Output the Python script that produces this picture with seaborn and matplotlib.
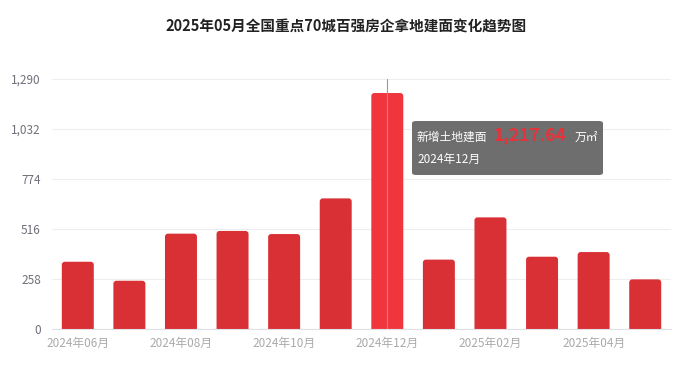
import pandas as pd
import matplotlib
matplotlib.use("Agg")
import matplotlib.pyplot as plt
import seaborn as sns
from matplotlib.patches import FancyBboxPatch

months = ["2024年06月", "2024年07月", "2024年08月", "2024年09月", "2024年10月", "2024年11月",
          "2024年12月", "2025年01月", "2025年02月", "2025年03月", "2025年04月", "2025年05月"]
area = [347, 249, 492, 506, 490, 674, 1217.64, 358, 576, 373, 397, 256]
yticks = [0, 258, 516, 774, 1032, 1290]
highlight = "2024年12月"

sns.set_style("white")
plt.rcParams["font.family"] = ["Noto Sans CJK SC", "DejaVu Sans"]

df = pd.DataFrame({"month": months, "area": area})
colors = ["#f0353d" if m == highlight else "#d93035" for m in months]

fig = plt.figure(figsize=(6.93, 3.73), dpi=100)
ax = fig.add_axes([52 / 693, 1 - 329 / 373, 619 / 693, 250 / 373])

sns.barplot(data=df, x="month", y="area", hue="month", palette=colors,
            legend=False, width=0.62, ax=ax, saturation=1)

# rounded tops: swap each bar for a rounded box, extended below 0 so the bottom is clipped square
px_x = 12 / 619
px_y = 1290 / 250
for p in list(ax.patches):
    x, y, w, h = p.get_x(), p.get_y(), p.get_width(), p.get_height()
    fc = p.get_facecolor()
    p.remove()
    ax.add_patch(FancyBboxPatch((x, y - 20), w, h + 20,
                                boxstyle=f"round,pad=0,rounding_size={3 * px_x}",
                                mutation_aspect=px_y / px_x, fc=fc, ec="none", zorder=2))

ax.set_ylim(0, 1290)
ax.set_xlim(-0.5, len(months) - 0.5)
ax.set_yticks(yticks)
ax.set_yticklabels([f"{v:,}" for v in yticks], color="#6e7079", fontsize=8.5)
ax.yaxis.grid(True, color="#eeeeee", linewidth=0.8)
ax.set_axisbelow(True)
ax.tick_params(axis="y", length=0, pad=8)

pos = list(range(0, len(months), 2))
ax.set_xticks(pos)
ax.set_xticklabels([months[i] for i in pos], color="#aaaaaa", fontsize=8.5)
ax.tick_params(axis="x", length=4, color="#dddddd", pad=2)
ax.set_xlabel("")
ax.set_ylabel("")
for s in ["top", "right", "left"]:
    ax.spines[s].set_visible(False)
ax.spines["bottom"].set_color("#e0e0e6")
ax.spines["bottom"].set_zorder(3)

hi = months.index(highlight)
ax.axvline(hi, color="#999999", linewidth=0.8, zorder=3)

# tooltip
tip = FancyBboxPatch((412 / 693, 1 - 175 / 373), 191 / 693, 54 / 373,
                     boxstyle="round,pad=0,rounding_size=0.006", transform=fig.transFigure,
                     fc="#6e6e6e", ec="none", zorder=5)
fig.patches.append(tip)
fig.text(417 / 693, 1 - 137 / 373, "新增土地建面", color="white", fontsize=8.5,
         va="center", ha="left", zorder=6)
fig.text(494 / 693, 1 - 135 / 373, f"{area[hi]:,.2f}", color="#e8323a", fontsize=12.5,
         fontweight="bold", va="center", ha="left", zorder=6)
fig.text(575 / 693, 1 - 137 / 373, "万㎡", color="white", fontsize=8.5,
         va="center", ha="left", zorder=6)
fig.text(417 / 693, 1 - 159 / 373, highlight, color="white", fontsize=8.5,
         va="center", ha="left", zorder=6)

fig.text(0.5, 1 - 27 / 373, "2025年05月全国重点70城百强房企拿地建面变化趋势图",
         ha="center", va="center", fontsize=10.5, fontweight="bold", color="#222222")

fig.savefig("out.png", dpi=100)
